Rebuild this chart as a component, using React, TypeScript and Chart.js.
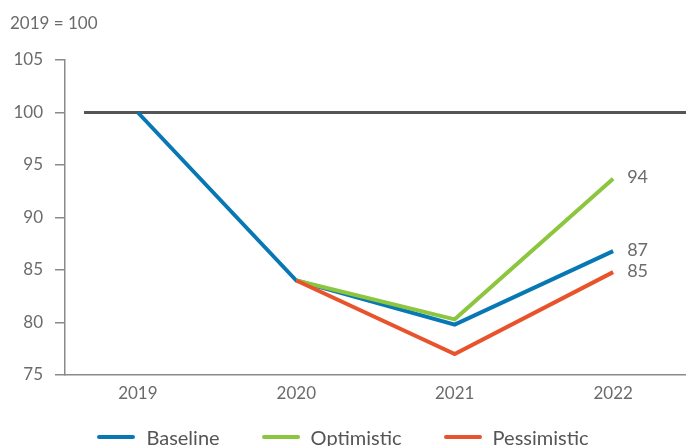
import React, { useEffect, useRef } from "react";
import { Chart, registerables } from "chart.js";

Chart.register(...registerables);

const years = [2019, 2020, 2021, 2022];
const seriesNames = ["Baseline", "Optimistic", "Pessimistic"];
const seriesColors = ["#0878B5", "#8CC63F", "#E9532B"];
const baseline = [100, 84, 79.8, 86.8];
const optimistic = [null, 84, 80.3, 93.7];
const pessimistic = [null, 84, 77.0, 84.8];
const yTicks = [75, 80, 85, 90, 95, 100, 105];
const refLevel = 100;
const refStartYear = 2018.66;
const unitNote = "2019 = 100";

const FONT = "Lato";
const TEXT = "#6b6b6b";

const toPoints = (vals: (number | null)[]) =>
  years.map((x, i) => ({ x, y: vals[i] })).filter((p) => p.y !== null);

export default function App() {
  const ref = useRef<HTMLCanvasElement | null>(null);

  useEffect(() => {
    if (!ref.current) return;
    const xMin = 2018.54;
    const xMax = 2022.46;

    const endLabels = {
      id: "endLabels",
      afterDatasetsDraw(chart: any) {
        const ctx = chart.ctx;
        ctx.save();
        ctx.font = `18px ${FONT}`;
        ctx.fillStyle = TEXT;
        ctx.textAlign = "left";
        ctx.textBaseline = "middle";
        chart.data.datasets.forEach((ds: any, i: number) => {
          if (!ds.endLabel) return;
          const meta = chart.getDatasetMeta(i);
          const pt = meta.data[meta.data.length - 1];
          const v = ds.data[ds.data.length - 1].y;
          ctx.fillText(String(Math.round(v)), pt.x + 14, pt.y - 1);
        });
        ctx.restore();
      },
    };

    const note = {
      id: "note",
      afterDraw(chart: any) {
        const ctx = chart.ctx;
        ctx.save();
        ctx.font = `17px ${FONT}`;
        ctx.fillStyle = TEXT;
        ctx.textAlign = "left";
        ctx.textBaseline = "middle";
        ctx.fillText(unitNote, 10, 24);
        ctx.restore();
      },
    };

    const seriesVals = [baseline, optimistic, pessimistic];
    const chart = new Chart(ref.current, {
      type: "line",
      data: {
        datasets: [
          {
            label: "ref",
            data: [
              { x: refStartYear, y: refLevel },
              { x: xMax, y: refLevel },
            ],
            borderColor: "#555555",
            borderWidth: 3,
            pointRadius: 0,
            order: 10,
          } as any,
          ...seriesNames.map((name, i) => ({
            label: name,
            data: toPoints(seriesVals[i]),
            borderColor: seriesColors[i],
            backgroundColor: seriesColors[i],
            borderWidth: 4,
            pointRadius: 0,
            tension: 0,
            endLabel: true,
            order: i === 0 ? 3 : i === 1 ? 2 : 1,
          })),
        ],
      },
      options: {
        animation: false,
        responsive: false,
        layout: { padding: { top: 60, bottom: 41, left: 0, right: 0 } },
        plugins: {
          legend: { display: false },
          tooltip: { enabled: false },
          title: { display: false },
        },
        scales: {
          x: {
            type: "linear",
            min: xMin,
            max: xMax,
            afterBuildTicks: (s: any) => {
              s.ticks = years.map((v) => ({ value: v }));
            },
            afterFit: (s: any) => {
              s.height = 30;
            },
            grid: { display: false, drawTicks: false },
            border: { display: true, color: "#8a8a8a", width: 1.5 },
            ticks: {
              padding: 8,
              color: TEXT,
              font: { family: FONT, size: 17 },
              callback: (v: any) => String(v),
              autoSkip: false,
              maxRotation: 0,
            },
          },
          y: {
            min: 75,
            max: 105,
            afterBuildTicks: (s: any) => {
              s.ticks = yTicks.map((v) => ({ value: v }));
            },
            afterFit: (s: any) => {
              s.width = 65;
            },
            grid: {
              drawOnChartArea: false,
              drawTicks: true,
              tickLength: 10,
              color: "#8a8a8a",
              lineWidth: 1.5,
            },
            border: { display: true, color: "#8a8a8a", width: 1.5 },
            ticks: {
              padding: 12,
              color: TEXT,
              font: { family: FONT, size: 17 },
            },
          },
        },
      } as any,
      plugins: [endLabels, note],
    });
    return () => chart.destroy();
  }, []);

  return (
    <div style={{ position: "absolute", left: 0, top: 0, width: 686, height: 446, background: "#fff" }}>
      <canvas ref={ref} width={686} height={446} style={{ position: "absolute", left: 0, top: 0 }} />
      <div
        style={{
          position: "absolute",
          left: 0,
          top: 425,
          width: 686,
          display: "flex",
          justifyContent: "center",
          alignItems: "center",
          gap: 42,
          fontFamily: FONT,
          fontSize: 20,
          color: "#555",
          lineHeight: "24px",
        }}
      >
        {seriesNames.map((n, i) => (
          <div key={n} style={{ display: "flex", alignItems: "center" }}>
            <span
              style={{
                display: "inline-block",
                width: 38,
                height: 4,
                borderRadius: 2,
                background: seriesColors[i],
                marginRight: 11,
              }}
            />
            <span>{n}</span>
          </div>
        ))}
      </div>
    </div>
  );
}
